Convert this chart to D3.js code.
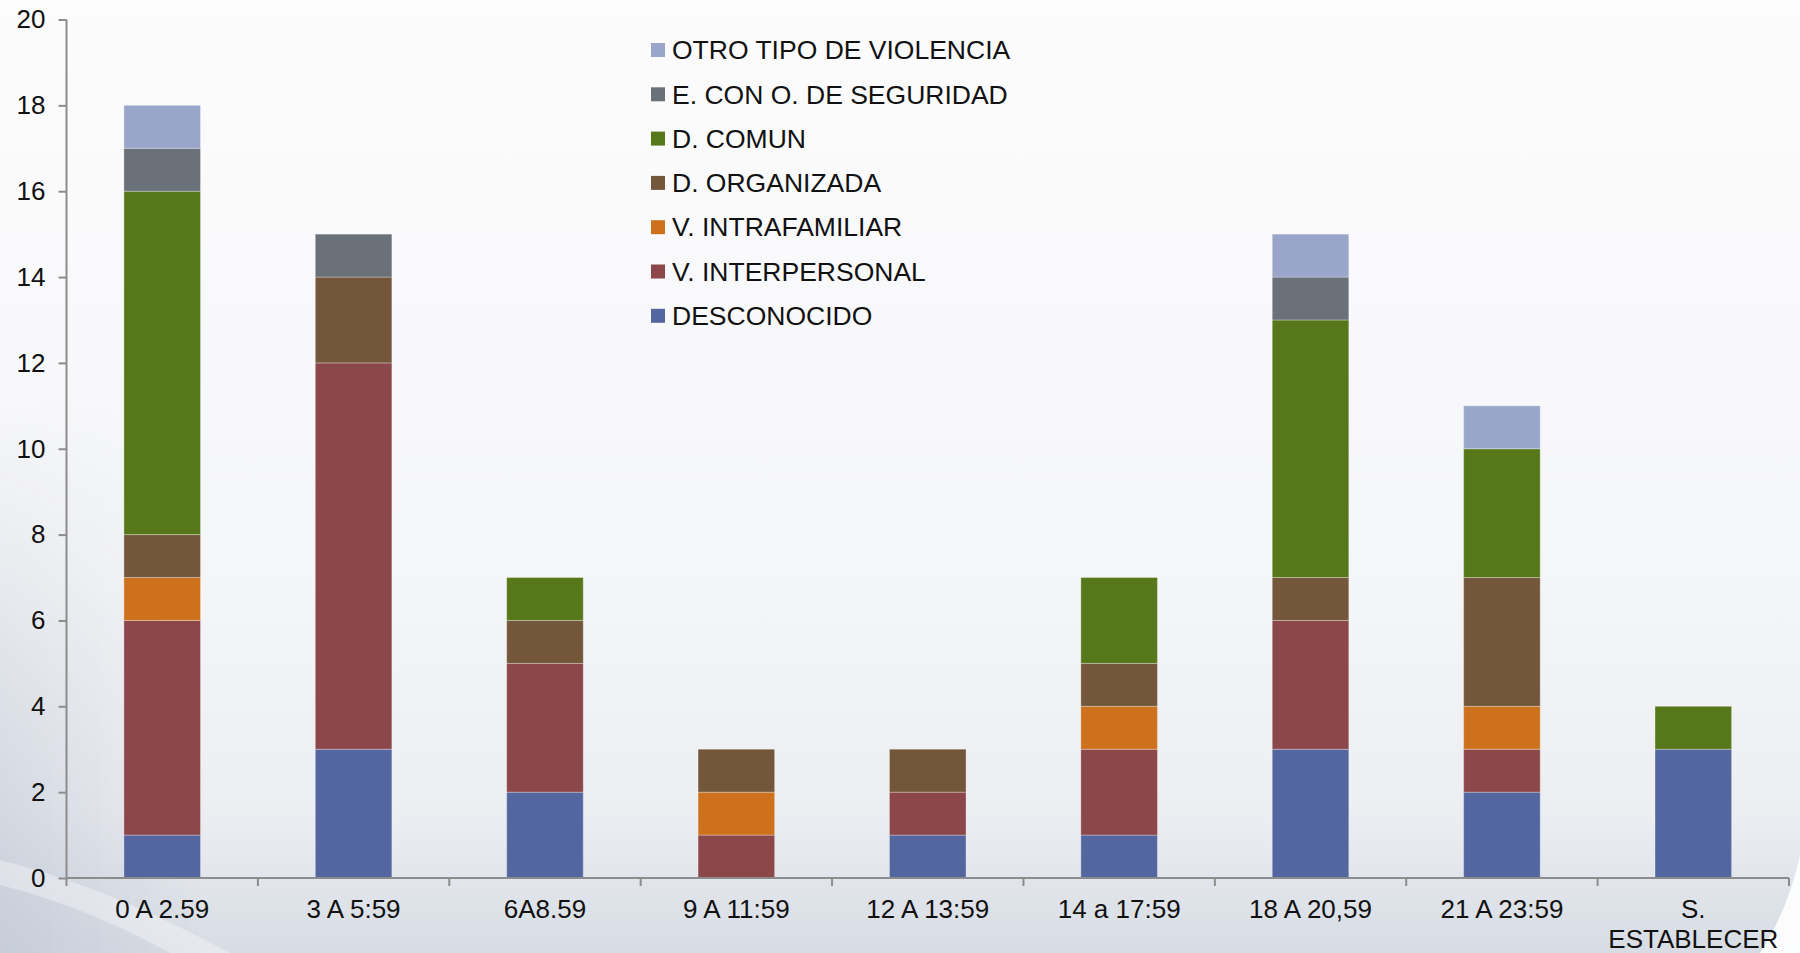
<!DOCTYPE html>
<html>
<head>
<meta charset="utf-8">
<script src="https://cdn.jsdelivr.net/npm/d3@7"></script>
<style>
  html, body { margin: 0; padding: 0; background: #fff; }
  svg { display: block; font-family: "Liberation Sans", Arial, sans-serif; }
</style>
</head>
<body>
<svg id="chart"></svg>
<script>
// Data
const categories = ["0 A 2.59", "3 A 5:59", "6A8.59", "9 A 11:59", "12 A 13:59",
                    "14 a 17:59", "18 A 20,59", "21 A 23:59", "S. ESTABLECER"];
// series, stacked from bottom to top
const seriesNames = ["DESCONOCIDO", "V. INTERPERSONAL", "V. INTRAFAMILIAR",
                     "D. ORGANIZADA", "D. COMUN", "E. CON O. DE SEGURIDAD", "OTRO TIPO DE VIOLENCIA"];
const desconocido    = [1, 3, 2, 0, 1, 1, 3, 2, 3];
const interpersonal  = [5, 9, 3, 1, 1, 2, 3, 1, 0];
const intrafamiliar  = [1, 0, 0, 1, 0, 1, 0, 1, 0];
const organizada     = [1, 2, 1, 1, 1, 1, 1, 3, 0];
const comun          = [8, 0, 1, 0, 0, 2, 6, 3, 1];
const seguridad      = [1, 1, 0, 0, 0, 0, 1, 0, 0];
const otro           = [1, 0, 0, 0, 0, 0, 1, 1, 0];
const yTicks = [0, 2, 4, 6, 8, 10, 12, 14, 16, 18, 20];
const colors = ["#5466a0", "#8b4749", "#cd711d", "#74573a", "#56781a", "#6a7178", "#99a6c9"];

const seriesValues = [desconocido, interpersonal, intrafamiliar, organizada, comun, seguridad, otro];

const W = 1800, H = 953;
const margin = { top: 19.5, right: 11, bottom: 75, left: 66.5 };
const width = W - margin.left - margin.right,
      height = H - margin.top - margin.bottom;

const root = d3.select("#chart").attr("width", W).attr("height", H);

// Background
const defs = root.append("defs");
const bg = defs.append("linearGradient").attr("id", "bg")
  .attr("x1", 0).attr("y1", 0).attr("x2", 0).attr("y2", 1);
bg.append("stop").attr("offset", "0%").attr("stop-color", "#fcfcfd");
bg.append("stop").attr("offset", "60%").attr("stop-color", "#f5f6f8");
bg.append("stop").attr("offset", "85%").attr("stop-color", "#eceef2");
bg.append("stop").attr("offset", "100%").attr("stop-color", "#d7dce4");
root.append("rect").attr("width", W).attr("height", H).attr("fill", "url(#bg)");

// darker band along the left edge, lower half
const side = defs.append("linearGradient").attr("id", "side")
  .attr("x1", 0).attr("y1", 0).attr("x2", 1).attr("y2", 0);
side.append("stop").attr("offset", "0%").attr("stop-color", "#c2c9d5").attr("stop-opacity", 0.8);
side.append("stop").attr("offset", "100%").attr("stop-color", "#c2c9d5").attr("stop-opacity", 0);
const sideV = defs.append("linearGradient").attr("id", "sideMask")
  .attr("x1", 0).attr("y1", 0).attr("x2", 0).attr("y2", 1);
sideV.append("stop").attr("offset", "0%").attr("stop-color", "#fff").attr("stop-opacity", 0);
sideV.append("stop").attr("offset", "100%").attr("stop-color", "#fff").attr("stop-opacity", 1);
defs.append("mask").attr("id", "m").append("rect")
  .attr("y", 400).attr("width", 200).attr("height", 553).attr("fill", "url(#sideMask)");
root.append("rect").attr("y", 400).attr("width", 200).attr("height", 553)
  .attr("fill", "url(#side)").attr("mask", "url(#m)");

// light diagonal streak bottom-left
root.append("path")
  .attr("d", "M0,860 C80,880 160,915 230,953 L170,953 C120,925 60,900 0,885 Z")
  .attr("fill", "#ffffff").attr("opacity", 0.35);
// white corner bottom-right
root.append("path")
  .attr("d", "M1800,855 C1790,900 1775,930 1760,953 L1800,953 Z")
  .attr("fill", "#ffffff").attr("opacity", 0.9);

const svg = root.append("g").attr("transform", `translate(${margin.left},${margin.top})`);

const x = d3.scaleBand().domain(categories).range([0, width])
  .paddingInner(0.6).paddingOuter(0.3);
const y = d3.scaleLinear().domain([0, 20]).range([height, 0]);

const table = categories.map((c, i) => {
  const row = { cat: c };
  seriesNames.forEach((s, j) => row[s] = seriesValues[j][i]);
  return row;
});
const stacked = d3.stack().keys(seriesNames)(table);

// Bars
svg.selectAll(".layer")
  .data(stacked)
  .enter().append("g")
    .attr("class", "layer")
    .attr("fill", (d, i) => colors[i])
  .selectAll("rect")
  .data(d => d.filter(p => p[1] - p[0] > 0))
  .enter().append("rect")
    .attr("x", d => x(d.data.cat))
    .attr("y", d => y(d[1]))
    .attr("width", x.bandwidth())
    .attr("height", d => y(d[0]) - y(d[1]))
    .attr("stroke", "rgba(255,255,255,0.3)")
    .attr("stroke-width", 1);

// Y axis
const yAxis = svg.append("g")
  .call(d3.axisLeft(y).tickValues(yTicks).tickSize(8).tickPadding(13));
yAxis.select(".domain").attr("d", `M0,${y(20)}V${y(0)}`);
yAxis.selectAll("path, line").attr("stroke", "#8c8c8c").attr("stroke-width", 2);
yAxis.selectAll("text").attr("font-size", 26).attr("fill", "#111")
  .attr("font-family", "Liberation Sans, Arial, sans-serif");

// X axis
const xAxis = svg.append("g")
  .attr("transform", `translate(0,${height})`)
  .call(d3.axisBottom(x).tickSize(0).tickPadding(22));
xAxis.select(".domain").attr("d", `M0,0H${width}`)
  .attr("stroke", "#8c8c8c").attr("stroke-width", 2);
xAxis.selectAll("text").attr("font-size", 26).attr("fill", "#111")
  .attr("font-family", "Liberation Sans, Arial, sans-serif")
  .each(function(d) {
    if (d === "S. ESTABLECER") {
      const parts = d.split(" ");
      const t = d3.select(this).text(null);
      t.append("tspan").attr("x", 0).text(parts[0]);
      t.append("tspan").attr("x", 0).attr("dy", "1.15em").text(parts[1]);
    }
  });
xAxis.selectAll(".boundary")
  .data(d3.range(categories.length + 1))
  .enter().append("line")
    .attr("class", "boundary")
    .attr("x1", i => i * x.step()).attr("x2", i => i * x.step())
    .attr("y1", 0).attr("y2", 8)
    .attr("stroke", "#8c8c8c").attr("stroke-width", 2);

// Legend (top entry = top of stack)
const legendItems = seriesNames.map((s, i) => ({ name: s, color: colors[i] })).reverse();
const legend = root.append("g").attr("transform", "translate(651,50)");
const li = legend.selectAll("g")
  .data(legendItems)
  .enter().append("g")
    .attr("transform", (d, i) => `translate(0,${i * 44.3})`);
li.append("rect").attr("x", 0).attr("y", -7).attr("width", 14).attr("height", 14)
  .attr("fill", d => d.color);
li.append("text").attr("x", 21).attr("y", 0).attr("dy", "0.35em")
  .attr("font-size", 26.5).attr("fill", "#111")
  .text(d => d.name);
</script>
</body>
</html>
